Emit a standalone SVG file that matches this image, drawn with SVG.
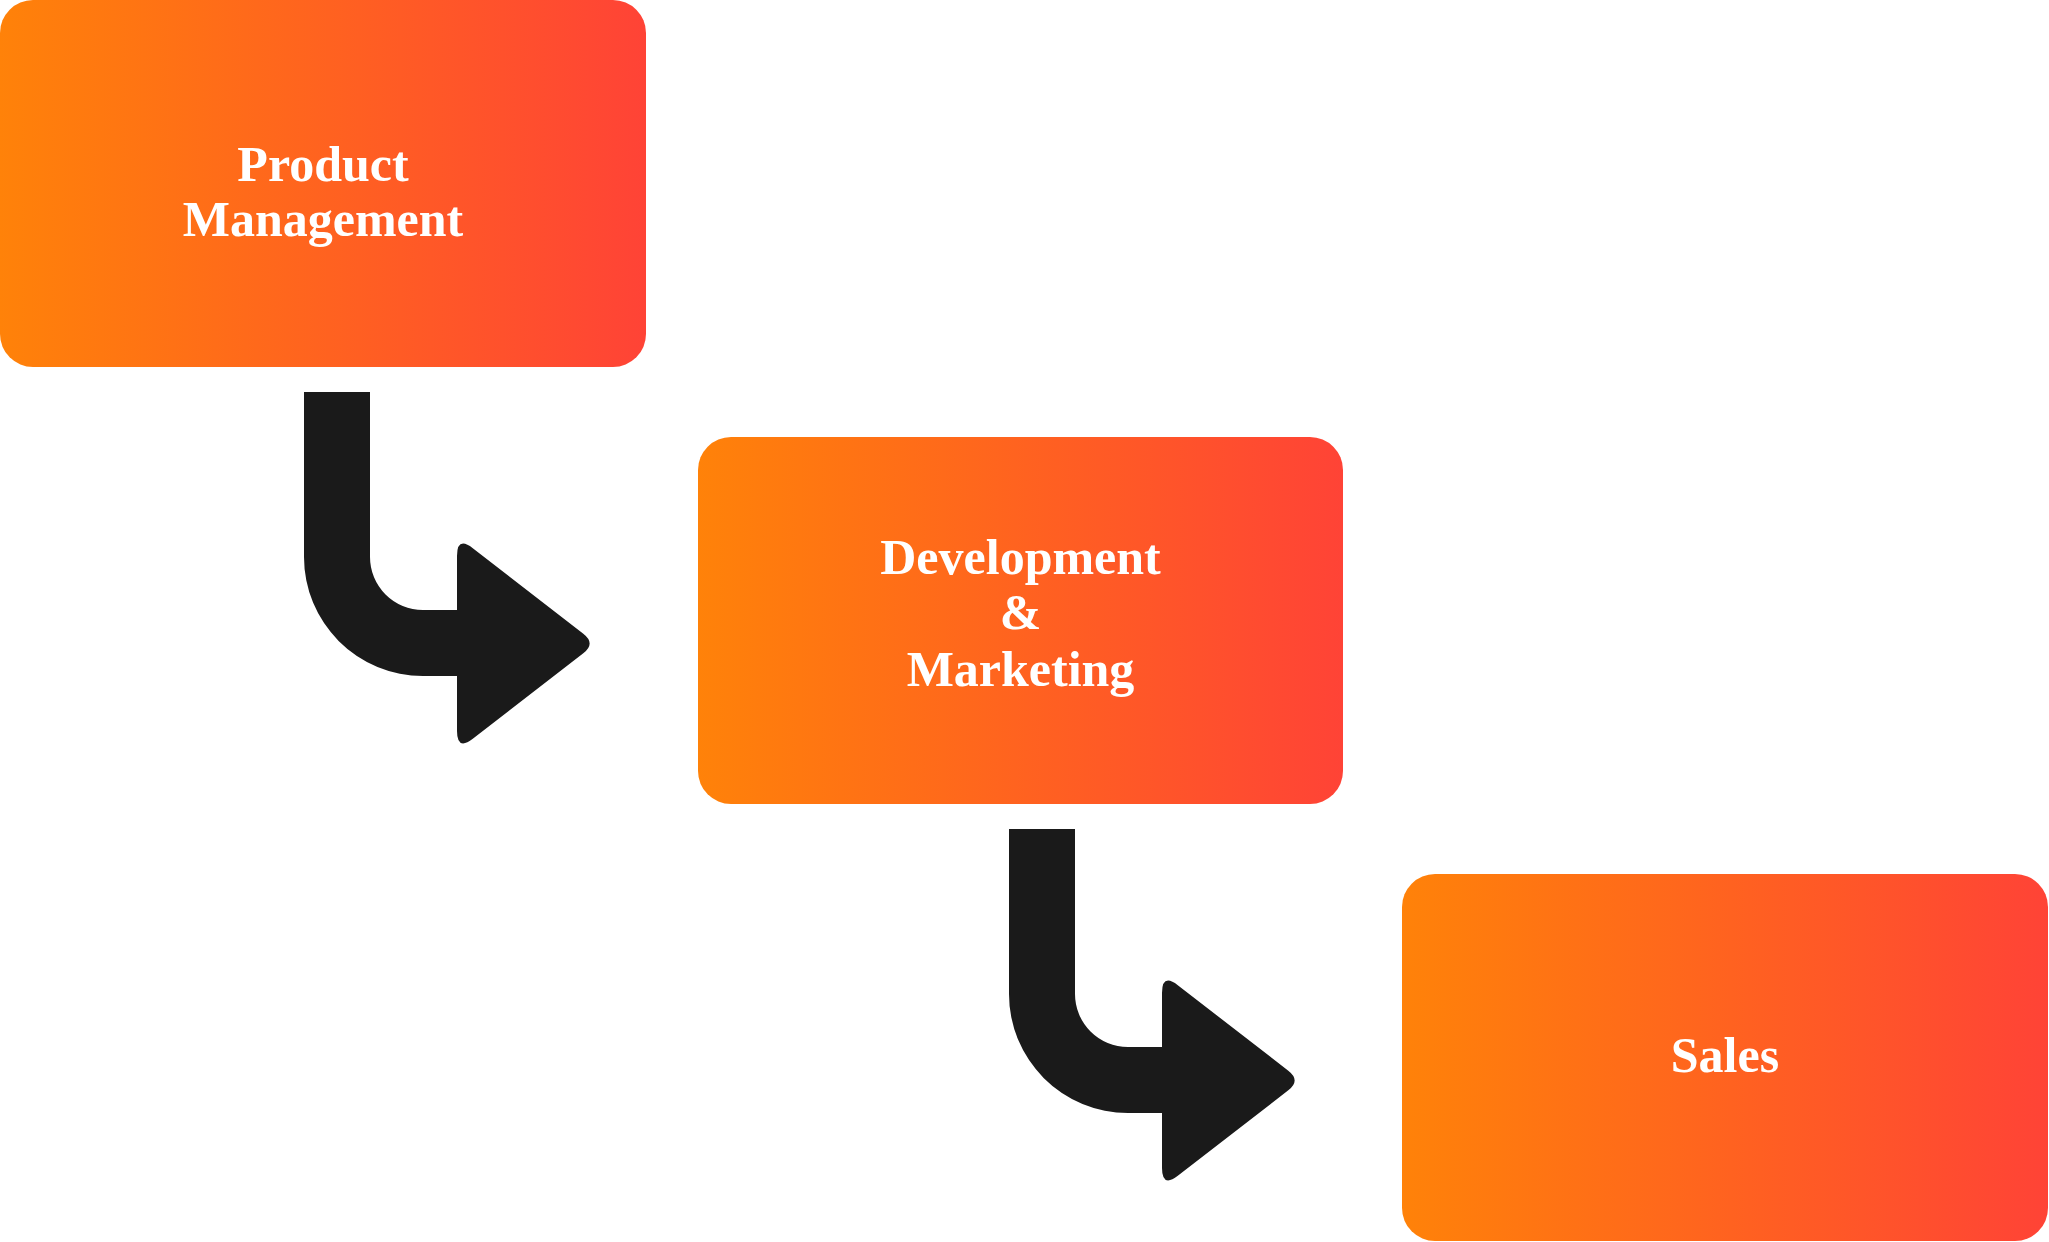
<svg xmlns="http://www.w3.org/2000/svg" xmlns:xlink="http://www.w3.org/1999/xlink" width="2049" height="1242" viewBox="0 0 2049 1242">
  <style>
    .box { fill: url(#grad); }
    .label { font-family: "Liberation Serif", "Times New Roman", serif; font-weight: bold; font-size: 50px; fill: #ffffff; text-anchor: middle; }
    .arrow { fill: #1a1a1a; }
  </style>
  <defs>
    <linearGradient id="grad" x1="0" y1="0.5" x2="1" y2="0.5">
      <stop offset="0" stop-color="#FF8209"/>
      <stop offset="1" stop-color="#FF4336"/>
    </linearGradient>
    <path id="bentArrow" d="M304,392 H370 V557 A53,53 0 0 0 423,610 H457 V556 Q457,536 472.8,548.2 L583.3,633.7 Q596,643.5 583.3,653.3 L472.8,738.8 Q457,751 457,731 V676 H423 A119,119 0 0 1 304,557 Z"/>
  </defs>
  <rect width="2049" height="1242" fill="#ffffff"/>
  <g id="connectors">
    <use xlink:href="#bentArrow" class="arrow"/>
    <use xlink:href="#bentArrow" class="arrow" transform="translate(705,437)"/>
  </g>
  <g id="node-product-management">
    <rect class="box" x="0" y="0" width="646" height="367" rx="33" ry="33"/>
    <text class="label" x="323" y="181">Product</text>
    <text class="label" x="323" y="236">Management</text>
  </g>
  <g id="node-development-marketing">
    <rect class="box" x="698" y="437" width="645" height="367" rx="33" ry="33"/>
    <text class="label" x="1020.5" y="574">Development</text>
    <text class="label" x="1020.5" y="629">&amp;</text>
    <text class="label" x="1020.5" y="686">Marketing</text>
  </g>
  <g id="node-sales">
    <rect class="box" x="1402" y="874" width="646" height="367" rx="33" ry="33"/>
    <text class="label" x="1725" y="1072">Sales</text>
  </g>
</svg>
